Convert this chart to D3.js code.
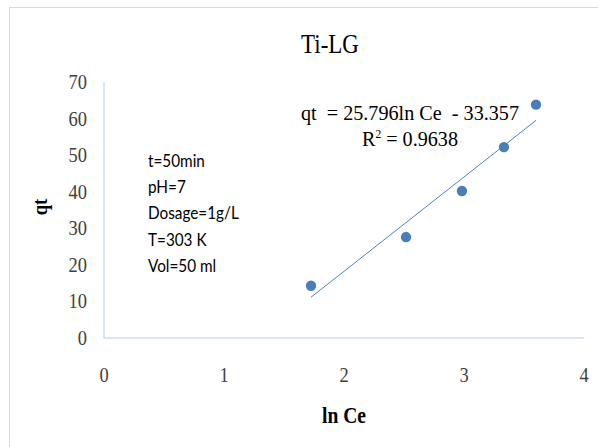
<!DOCTYPE html>
<html><head><meta charset="utf-8">
<script src="https://cdn.jsdelivr.net/npm/d3@7"></script>
<style>body{margin:0;background:#fff}svg{display:block}text{white-space:pre}</style>
</head><body>
<svg id="c" width="598" height="447"></svg>
<script>
const lnCe = [1.725, 2.517, 2.983, 3.333, 3.6];
const qt = [14.3, 27.6, 40.2, 52.2, 63.8];
const slope = 25.796, intercept = -33.357;
const xTicks = [0, 1, 2, 3, 4];
const yTicks = [0, 10, 20, 30, 40, 50, 60, 70];
const notes = ["t=50min", "pH=7", "Dosage=1g/L", "T=303 K", "Vol=50 ml"];

const svg = d3.select("#c");
svg.append("rect").attr("x",9.5).attr("y",7.5).attr("width",620).attr("height",460)
  .attr("fill","#fff").attr("stroke","#d9d9d9");

const x = d3.scaleLinear().domain([0,4]).range([104,584]);
const y = d3.scaleLinear().domain([0,70]).range([338,82]);
const axisCol = "#b9cde5";

svg.append("line").attr("x1",x(0)).attr("x2",x(4)).attr("y1",y(0)).attr("y2",y(0)).attr("stroke",axisCol);
svg.append("line").attr("x1",x(0)).attr("x2",x(0)).attr("y1",y(0)).attr("y2",y(70)).attr("stroke",axisCol);

const serif = "'Liberation Serif','Times New Roman',serif";
svg.selectAll(".yt").data(yTicks).enter().append("text")
  .attr("transform",d=>`translate(87,${y(d)+7}) scale(0.88,1)`).attr("text-anchor","end")
  .attr("font-family",serif).attr("font-size",21).attr("fill","#404040").text(d=>d);
svg.selectAll(".xt").data(xTicks).enter().append("text")
  .attr("transform",d=>`translate(${x(d)},382) scale(0.88,1)`).attr("text-anchor","middle")
  .attr("font-family",serif).attr("font-size",21).attr("fill","#404040").text(d=>d);

svg.append("text").attr("transform","translate(330,53) scale(0.85,1)").attr("text-anchor","middle")
  .attr("font-family",serif).attr("font-size",27).attr("fill","#000").text("Ti-LG");
svg.append("text").attr("transform","translate(344,423) scale(0.85,1)").attr("text-anchor","middle")
  .attr("font-family",serif).attr("font-size",23).attr("font-weight","bold").text("ln Ce");
svg.append("text").attr("transform","translate(47,207) rotate(-90) scale(0.85,1)").attr("text-anchor","middle")
  .attr("font-family",serif).attr("font-size",22).attr("font-weight","bold").text("qt");

const x0 = d3.min(lnCe), x1 = d3.max(lnCe);
svg.append("line").attr("x1",x(x0)).attr("y1",y(slope*x0+intercept))
  .attr("x2",x(x1)).attr("y2",y(slope*x1+intercept)).attr("stroke","#4f81bd").attr("stroke-width",1);

svg.selectAll(".pt").data(lnCe).enter().append("circle")
  .attr("cx",d=>x(d)).attr("cy",(d,i)=>y(qt[i])).attr("r",5.2).attr("fill","#4a7ebb");

svg.selectAll(".nt").data(notes).enter().append("text")
  .attr("transform",(d,i)=>`translate(148,${167+i*26.2}) scale(0.9,1)`)
  .attr("font-family","Lato,'Open Sans',sans-serif").attr("font-size",17).attr("fill","#000").text(d=>d);

svg.append("text").attr("x",301).attr("y",120).attr("font-family",serif).attr("font-size",21)
  .attr("textLength",218).attr("lengthAdjust","spacingAndGlyphs").text("qt  = 25.796ln Ce  - 33.357");
const r = svg.append("text").attr("x",362).attr("y",146).attr("font-family",serif).attr("font-size",21)
  .attr("textLength",96).attr("lengthAdjust","spacingAndGlyphs");
r.append("tspan").text("R");
r.append("tspan").attr("font-size",12).attr("dy",-8).text("2");
r.append("tspan").attr("dy",8).text(" = 0.9638");
</script>
</body></html>
